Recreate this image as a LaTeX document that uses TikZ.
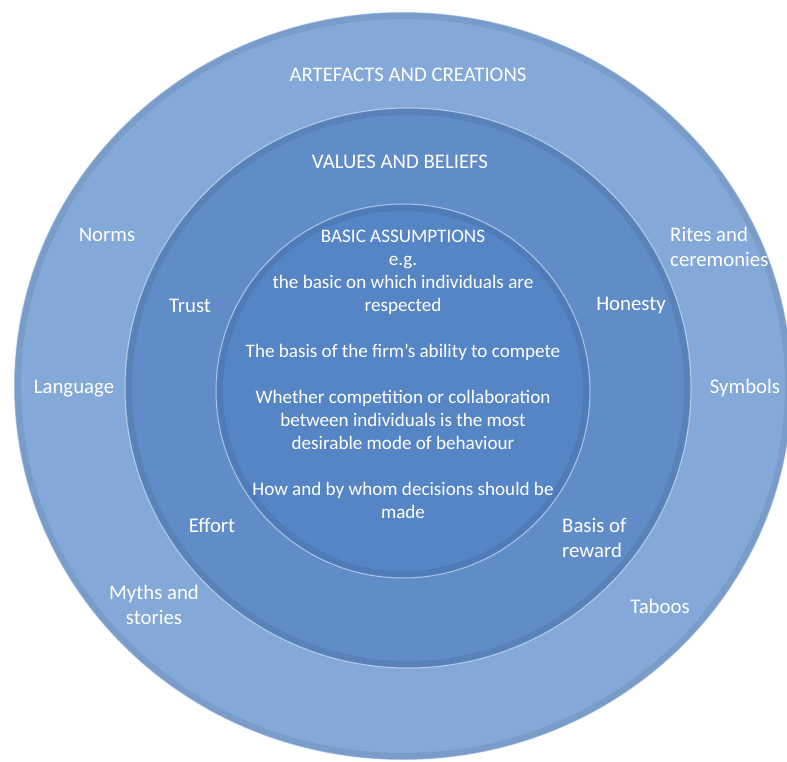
\documentclass[tikz,border=0pt]{standalone}
\usepackage{fontspec}
\setmainfont{Carlito}

\definecolor{outerblue}{RGB}{132,168,216}
\definecolor{middleblue}{RGB}{96,140,200}
\definecolor{innerblue}{RGB}{86,133,198}

\tikzset{
  layer/.style={fill=#1},
  rim/.style={draw=white, opacity=0.5, line width=1pt},
  shade/.style={draw=black, opacity=0.07, line width=6pt},
  txt/.style={text=white, align=center, inner sep=0pt},
  txtl/.style={text=white, align=left, inner sep=0pt},
  small/.style={font=\fontsize{19.1}{23}\selectfont}
}

\begin{document}
\begin{tikzpicture}[x=1pt, y=-1pt, every node/.style={font=\fontsize{20.8}{25.3}\selectfont}]
  \useasboundingbox (0,0) rectangle (787,762);

  % Draw the outer layer
  \path[layer=outerblue] (403,386) ellipse [x radius=389, y radius=374];
  \path[shade] (403,386) ellipse [x radius=385, y radius=370];
  \path[rim] (403,386) ellipse [x radius=389, y radius=374];

  % Draw the middle layer
  \path[layer=middleblue] (408,388) ellipse [x radius=283, y radius=280];
  \path[shade] (408,388) ellipse [x radius=279, y radius=276];
  \path[rim] (408,388) ellipse [x radius=283, y radius=280];

  % Draw the inner layer
  \path[layer=innerblue] (403,391) ellipse [x radius=187, y radius=187];
  \path[shade] (403,391) ellipse [x radius=183, y radius=183];
  \path[rim] (403,391) ellipse [x radius=187, y radius=187];

  % Layer titles
  \node[txt] (artefacts) at (408,75) {ARTEFACTS AND CREATIONS};
  \node[txt] (values) at (400,162) {VALUES AND BELIEFS};

  % Outer ring labels
  \node[txt] (norms) at (107,235) {Norms};
  \node[txtl, anchor=west] (rites) at (670,247) {Rites and\\ceremonies};
  \node[txt] (language) at (74,389) {Language};
  \node[txt] (symbols) at (745,388) {Symbols};
  \node[txt] (myths) at (154,605) {Myths and\\stories};
  \node[txt] (taboos) at (660,606) {Taboos};

  % Middle ring labels
  \node[txt] (trust) at (190,306) {Trust};
  \node[txt] (honesty) at (631,306) {Honesty};
  \node[txt] (effort) at (212,525) {Effort};
  \node[txtl, anchor=west] (reward) at (562,538) {Basis of\\reward};

  % Basic assumptions
  \node[txt, small, anchor=north] (basic) at (403,230) {BASIC ASSUMPTIONS\\e.g.\\the basic on which individuals are\\respected\\[23pt]The basis of the firm’s ability to compete\\[23pt]Whether competition or collaboration\\between individuals is the most\\desirable mode of behaviour\\[23pt]How and by whom decisions should be\\made};
\end{tikzpicture}
\end{document}
